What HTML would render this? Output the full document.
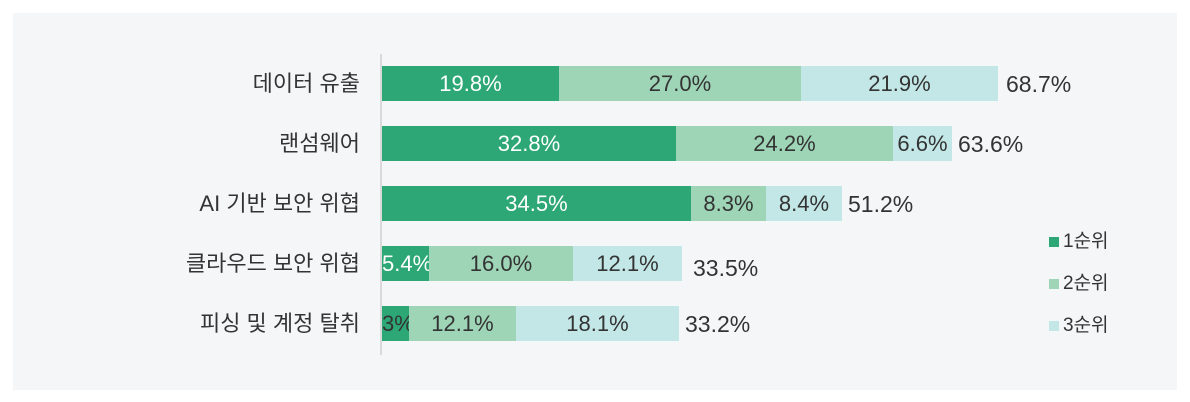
<!DOCTYPE html><html><head><meta charset="utf-8"><style>
body{margin:0;width:1190px;height:402px;background:#fff;font-family:"Liberation Sans","Noto Sans CJK KR",sans-serif;position:relative;overflow:hidden}
.p{position:absolute;left:13px;top:13px;width:1164px;height:377px;background:#f5f6f8}
.ax{position:absolute;left:380px;top:54px;width:2px;height:301px;background:#d9d9d9}
.b{position:absolute;height:35px;line-height:35px;text-align:center;font-size:22px;color:#333;white-space:nowrap}
.c1{background:#2da775;color:#fff}.c2{background:#9ed5b6}.c3{background:#c2e7e6}
.l{position:absolute;right:830px;font-size:22px;color:#333;line-height:35px;white-space:nowrap}
.t{position:absolute;font-size:23px;color:#333;line-height:35px}
.lg{position:absolute;left:1049px;width:10px;height:10px}
.lt{position:absolute;left:1063px;font-size:19px;color:#333;line-height:20px}
</style></head><body><div class="p"></div><div class="ax"></div>
<div class="l" style="top:66px">데이터 유출</div>
<div class="l" style="top:126px">랜섬웨어</div>
<div class="l" style="top:186px">AI 기반 보안 위협</div>
<div class="l" style="top:246px">클라우드 보안 위협</div>
<div class="l" style="top:306px">피싱 및 계정 탈취</div>

<div class="b c1" style="top:66px;left:382px;width:177px">19.8%</div>
<div class="b c2" style="top:66px;left:559px;width:242px">27.0%</div>
<div class="b c3" style="top:66px;left:801px;width:197px">21.9%</div>
<div class="t" style="top:67px;left:1006px">68.7%</div>

<div class="b c1" style="top:126px;left:382px;width:294px">32.8%</div>
<div class="b c2" style="top:126px;left:676px;width:217px">24.2%</div>
<div class="b c3" style="top:126px;left:893px;width:59px">6.6%</div>
<div class="t" style="top:127px;left:958px">63.6%</div>

<div class="b c1" style="top:186px;left:382px;width:309px">34.5%</div>
<div class="b c2" style="top:186px;left:691px;width:75px">8.3%</div>
<div class="b c3" style="top:186px;left:766px;width:76px">8.4%</div>
<div class="t" style="top:187px;left:848px">51.2%</div>

<div class="b c1" style="top:246px;left:382px;width:47px">5.4%</div>
<div class="b c2" style="top:246px;left:429px;width:144px">16.0%</div>
<div class="b c3" style="top:246px;left:573px;width:109px">12.1%</div>
<div class="t" style="top:251px;left:693px">33.5%</div>

<div class="b c1" style="top:306px;left:382px;width:27px"><span style="color:#333">3%</span></div>
<div class="b c2" style="top:306px;left:409px;width:107px">12.1%</div>
<div class="b c3" style="top:306px;left:516px;width:163px">18.1%</div>
<div class="t" style="top:307px;left:685px">33.2%</div>

<div class="lg c1" style="top:237px"></div><div class="lt" style="top:232px">1순위</div>
<div class="lg c2" style="top:279px"></div><div class="lt" style="top:274px">2순위</div>
<div class="lg c3" style="top:321px"></div><div class="lt" style="top:316px">3순위</div>
</body></html>
